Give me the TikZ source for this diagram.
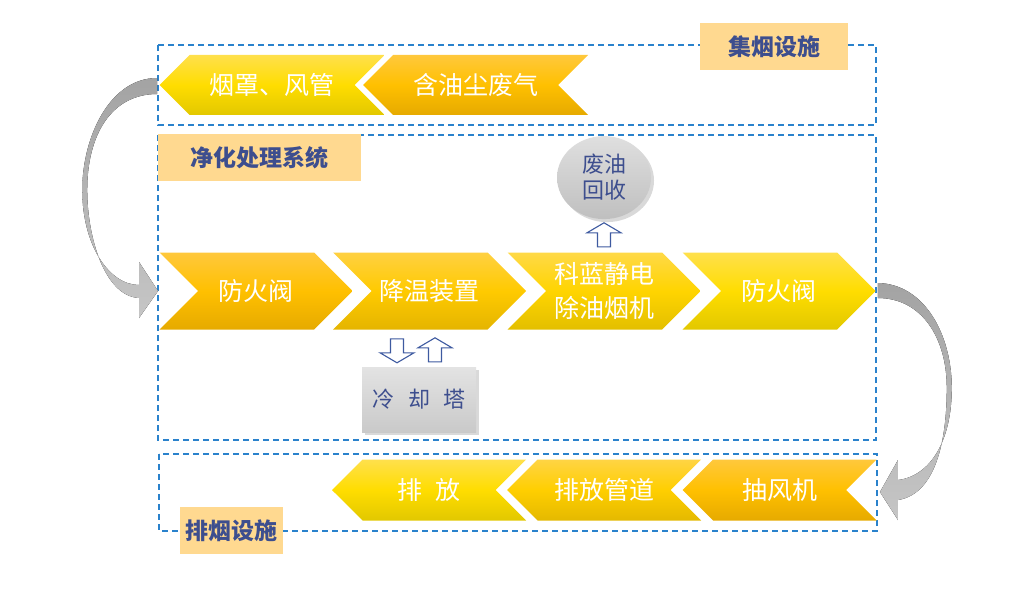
\documentclass[tikz,border=0pt]{standalone}
\usepackage{fontspec}
\setmainfont{Noto Sans CJK SC}
\usepackage{xcolor}
\usepackage{tikz}
\usetikzlibrary{shapes,shapes.symbols,shadows,positioning,calc,arrows.meta}

\definecolor{dashblue}{HTML}{2A82CC}
\definecolor{labfill}{HTML}{FFD990}
\definecolor{labtext}{HTML}{3D4E8E}
\definecolor{orgtop}{HTML}{FFC83C}
\definecolor{orgmid}{HTML}{FFC000}
\definecolor{orgbot}{HTML}{E6AA00}
\definecolor{yeltop}{HTML}{FFE04C}
\definecolor{yelmid}{HTML}{FFDD00}
\definecolor{yelbot}{HTML}{E2C800}
\definecolor{arrowblue}{HTML}{3E5AA0}

\tikzset{
    zone/.style={dashblue, line width=1.6pt, dash pattern=on 6pt off 4pt},
    tag/.style={rectangle, fill=labfill, text=labtext, inner sep=0pt,
        minimum width=#1, minimum height=47pt,
        font=\fontsize{23}{26}\selectfont\bfseries},
    chev/.style={signal, signal pointer angle=90, inner sep=0pt, text=white,
        font=\fontsize{25}{34}\selectfont},
    tolft/.style={signal to=west, signal from=east},
    torgt/.style={signal to=east, signal from=west},
    toprow/.style={minimum width=225pt, minimum height=60pt},
    midrow/.style={minimum width=193pt, minimum height=77pt},
    botrow/.style={minimum width=194pt, minimum height=61pt},
    chevfill/.style={top color=yeltop!#1!orgtop, bottom color=yelbot!#1!orgbot,
        middle color=yelmid!#1!orgmid},
    oilball/.style={ellipse, minimum width=94pt, minimum height=83pt, inner sep=0pt,
        top color=gray!25, bottom color=gray!50, text=labtext, align=center,
        font=\fontsize{22}{26}\selectfont,
        drop shadow={shadow xshift=3pt, shadow yshift=-3pt, opacity=0.3}},
    tower/.style={rectangle, minimum width=114pt, minimum height=65pt,
        top color=gray!22, bottom color=gray!42, text=labtext,
        font=\fontsize{22}{26}\selectfont,
        drop shadow={shadow xshift=3pt, shadow yshift=-3pt, opacity=0.3}},
    upblock/.pic={
        \draw [arrowblue, fill=white, line width=1.1pt]
            (-6.5, 12) -- (-6.5, -2) -- (-17, -2) -- (0, -12)
            -- (17, -2) -- (6.5, -2) -- (6.5, 12) -- cycle;
    },
    swoop/.style={top color=gray!72, bottom color=gray!45},
}

\begin{document}
\begin{tikzpicture}[x=1pt, y=-1pt]
    \useasboundingbox (0, 0) rectangle (1033, 591);

    % Collection
    \draw [zone] (158, 45) rectangle (876, 125);
    \node [tag=148pt] (collect) at (774, 47) {集烟设施};
    \node [chev, toprow, tolft, chevfill=0] (oily) at (475.5, 85) {含油尘废气};
    \node [chev, toprow, tolft, chevfill=100] (hood) at (272, 85) {烟罩、风管};

    % Purification
    \draw [zone] (158, 135) rectangle (876, 440);
    \node [tag=203pt] (purify) at (259.5, 157.5) {净化处理系统};
    \node [chev, midrow, torgt, chevfill=0] (valve1) at (256, 291) {防火阀};
    \node [chev, midrow, torgt, chevfill=35] (cool) at (429.5, 291) {降温装置};
    \node [chev, midrow, torgt, chevfill=70, align=center] (esp) at (604, 291) {科蓝静电\\除油烟机};
    \node [chev, midrow, torgt, chevfill=100] (valve2) at (779, 291) {防火阀};
    \node [oilball, above=33pt of esp] (oil) {废油\\回收};
    \node [tower] (tower) at (419, 399.5) {冷\hspace{0.6em}却\hspace{0.6em}塔};

    % Block arrows
    \coordinate (oilup) at ($(esp.north)+(0, -17.5)$);
    \coordinate (towerin) at ($(tower.north)+(-22, -16)$);
    \coordinate (towerout) at ($(tower.north)+(16, -17)$);
    \pic at (oilup) {upblock};
    \pic [rotate=180] at (towerin) {upblock};
    \pic at (towerout) {upblock};

    % Exhaust
    \draw [zone] (159, 454) rectangle (877, 531);
    \node [chev, botrow, tolft, chevfill=0] (fan) at (779.5, 490) {抽风机};
    \node [chev, botrow, tolft, chevfill=50] (duct) at (604, 490) {排放管道};
    \node [chev, botrow, tolft, chevfill=100] (outlet) at (429, 490) {排\enspace 放};
    \node [tag=103pt] (exhaust) at (231.5, 530.5) {排烟设施};

    % Bends between the stages
    \coordinate (bendA) at (hood.west);
    \coordinate (bendB) at (valve1.north west |- valve1.center);
    \coordinate (bendC) at (valve2.east);
    \coordinate (bendD) at (fan.north east |- fan.center);
    \fill [swoop] ($(bendA)+(-2,-7)$) .. controls +(-48,0) and +(0,-52) .. ($(bendA)+(-77,105)$)
        .. controls +(0,55) and +(-30,0) .. ($(bendB)+(-20,-6)$) -- ++(0,-23)
        -- ($(bendB)+(-1,0)$) -- ($(bendB)+(-20,27)$) -- ++(0,-20)
        .. controls +(-35,-2) and +(0,46) .. ($(bendA)+(-72,105)$)
        .. controls +(0,-55) and +(-46,0) .. ($(bendA)+(-2,9)$) -- cycle;
    \fill [swoop] ($(bendC)+(2,-8)$) .. controls +(47,1) and +(0,-53) .. ($(bendC)+(76,97)$)
        .. controls +(0,52) and +(33,-4) .. ($(bendD)+(21,-10)$) -- ++(0,-20)
        -- ($(bendD)+(3,2)$) -- ($(bendD)+(21,30)$) -- ++(0,-20)
        .. controls +(38,-6) and +(0,52) .. ($(bendC)+(71,97)$)
        .. controls +(0,-50) and +(44,0) .. ($(bendC)+(2,7)$) -- cycle;
\end{tikzpicture}
\end{document}
